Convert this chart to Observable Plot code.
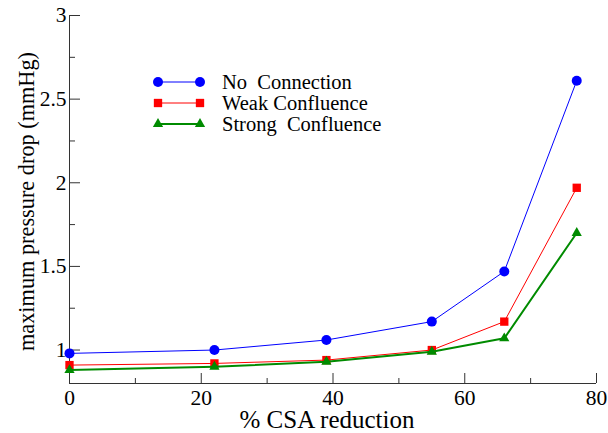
<!DOCTYPE html>
<html>
<head>
<meta charset="utf-8">
<script src="https://cdn.jsdelivr.net/npm/d3@7"></script>
<script src="https://cdn.jsdelivr.net/npm/@observablehq/plot@0.6"></script>
<style>
  html, body { margin: 0; padding: 0; background: white; }
  #chart svg { display: block; }
  #chart svg text { font-family: "Liberation Serif", "Times New Roman", Times, "DejaVu Serif", serif; }
</style>
</head>
<body>
<div id="chart"></div>
<script>
// ---- data ----
const csaReduction = [0, 22, 39, 55, 66, 77];
const noConnection = [0.98, 1.00, 1.06, 1.17, 1.47, 2.61];
const weakConfluence = [0.91, 0.92, 0.94, 1.00, 1.17, 1.97];
const strongConfluence = [0.88, 0.90, 0.93, 0.99, 1.07, 1.70];
const seriesNames = ["No  Connection", "Weak Confluence", "Strong  Confluence"];
const xMajorTicks = [0, 20, 40, 60, 80];
const xMinorTicks = [10, 30, 50, 70];
const yMajorTicks = [1, 1.5, 2, 2.5, 3];
const yMinorTicks = [1.25, 1.75, 2.25, 2.75];
const xLabel = "% CSA reduction";
const yLabel = "maximum pressure drop (mmHg)";

const seriesStyle = [
  {color: "#0000ff", symbol: "circle", r: 5, width: 1},
  {color: "#ff0000", symbol: "square", r: 4.7, width: 1},
  {color: "#008b00", symbol: "triangle", r: 3.8, width: 2}
];
const seriesValues = [noConnection, weakConfluence, strongConfluence];
const rows = seriesValues.map((vals, s) =>
  csaReduction.map((x, i) => ({series: seriesNames[s], s, x, y: vals[i]}))
);

const axisColor = "#333";
const serif = "Liberation Serif, Times New Roman, Times, DejaVu Serif, serif";

const marks = [
  Plot.ruleX([0], {stroke: axisColor}),
  Plot.ruleY([0.8], {stroke: axisColor}),
  // inward ticks
  Plot.axisX({ticks: xMajorTicks, tickSize: -10, fill: "none", stroke: axisColor, label: null}),
  Plot.axisX({ticks: xMinorTicks, tickSize: -5, fill: "none", stroke: axisColor, label: null}),
  Plot.axisY({ticks: yMajorTicks, tickSize: -11, fill: "none", stroke: axisColor, label: null}),
  Plot.axisY({ticks: yMinorTicks, tickSize: -6, fill: "none", stroke: axisColor, label: null}),
  // tick labels
  Plot.axisX({ticks: xMajorTicks, tickSize: 0, tickPadding: 6, label: null, fontSize: 21.5, tickFormat: d => String(d)}),
  Plot.axisY({ticks: yMajorTicks, tickSize: 0, tickPadding: 3, label: null, fontSize: 21.5, tickFormat: d => String(d)}),
  // axis titles
  Plot.text([xLabel], {frameAnchor: "bottom", dx: -6, dy: 36, fontSize: 25, textAnchor: "middle", lineAnchor: "middle", text: d => d}),
  Plot.text([yLabel], {frameAnchor: "left", dx: -43, dy: 2, rotate: -90, fontSize: 22.3, textAnchor: "middle", lineAnchor: "middle", text: d => d})
];

rows.forEach((data, s) => {
  const st = seriesStyle[s];
  marks.push(Plot.line(data, {x: "x", y: "y", stroke: st.color, strokeWidth: st.width}));
  marks.push(Plot.dot(data, {x: "x", y: "y", symbol: () => st.symbol, fill: st.color, stroke: "none", r: st.r}));
});

const chart = Plot.plot({
  width: 608,
  height: 433,
  marginLeft: 69,
  marginRight: 12,
  marginTop: 15,
  marginBottom: 50,
  style: {fontFamily: serif, fontSize: "20px", background: "white", color: "black"},
  x: {domain: [0, 80]},
  y: {domain: [0.8, 3]},
  symbol: {domain: ["circle", "square", "triangle"], range: ["circle", "square", "triangle"]},
  marks
});
document.getElementById("chart").appendChild(chart);

// ---- legend overlay ----
const svg = d3.select(chart);
const lg = svg.append("g").attr("font-family", serif).attr("font-size", 20.5).attr("text-anchor", "start");
const rowY = [82, 103, 124];
seriesNames.forEach((name, i) => {
  const st = seriesStyle[i];
  const g = lg.append("g").attr("transform", `translate(0,${rowY[i]})`);
  g.append("line").attr("x1", 158).attr("x2", 200).attr("y1", 0).attr("y2", 0)
    .attr("stroke", st.color).attr("stroke-width", st.width);
  const sym = d3.symbol().type(st.symbol === "circle" ? d3.symbolCircle : st.symbol === "square" ? d3.symbolSquare : d3.symbolTriangle)
    .size(Math.PI * st.r * st.r);
  [158, 200].forEach(x => g.append("path").attr("d", sym()).attr("transform", `translate(${x},0)`).attr("fill", st.color));
  g.append("text").attr("x", 222).attr("y", 0).attr("dy", "0.35em")
    .style("white-space", "pre").attr("xml:space", "preserve").text(name);
});
</script>
</body>
</html>
